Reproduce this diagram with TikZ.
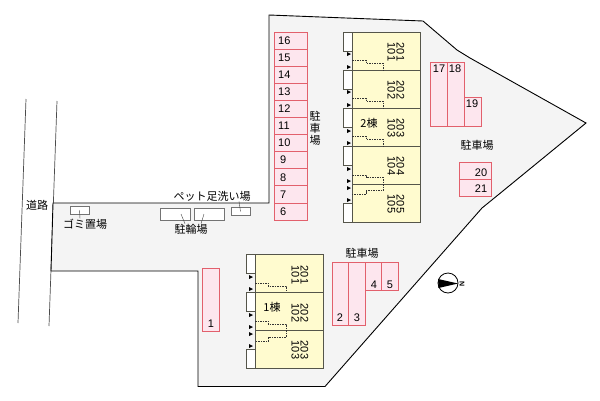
\documentclass[tikz,border=0pt]{standalone}
\usepackage{fontspec}
\setmainfont{Liberation Sans}
\newfontfamily\jpfont{Noto Sans CJK JP}
\usetikzlibrary{arrows.meta, positioning}
\definecolor{sitefill}{HTML}{F4F4F4}
\definecolor{stallfill}{HTML}{FDE6EE}
\definecolor{stallline}{HTML}{E2606C}
\definecolor{unitfill}{HTML}{FFFBCF}
\definecolor{unitline}{HTML}{55554A}
\tikzset{
    site/.style={draw=black, line width=0.9pt, fill=sitefill},
    road/.style={draw=black!70, line width=0.7pt},
    stall/.style={
        rectangle, draw=stallline, line width=0.8pt, fill=stallfill,
        inner sep=0pt, minimum width=17pt, minimum height=17.1pt
    },
    stallno/.style={font=\fontsize{11}{11}\selectfont, inner sep=0pt},
    unit/.style={
        rectangle, draw=unitline, line width=0.8pt, fill=unitfill,
        inner sep=0pt, minimum width=68pt, minimum height=38pt
    },
    porch/.style={
        rectangle, draw=unitline, line width=0.8pt, fill=white,
        inner sep=0pt, minimum width=8.5pt, minimum height=19pt
    },
    roomno/.style={
        rotate=-90, align=center, inner sep=0pt,
        font=\fontsize{11}{9}\selectfont
    },
    jlabel/.style={font=\jpfont\fontsize{11}{12}\selectfont, inner sep=0pt, align=center},
    shed/.style={
        rectangle, draw=black!55, line width=0.8pt, fill=white,
        inner sep=0pt
    },
    leader/.style={draw=black!75, line width=0.4pt},
    pipe/.style={draw=black!80, line width=0.5pt, dash pattern=on 1.5pt off 1pt}
}
\newcommand{\doormark}[1]{\fill[black] (#1) ++(-2,-2) -- ++(4,2) -- ++(-4,2) -- cycle;}

\begin{document}
\begin{tikzpicture}[x=1pt, y=-1pt]
\useasboundingbox (0,0) rectangle (600,400);

% Road
\draw[road] (26,99) -- (18,323);
\draw[road] (57,101) -- (49,326);
\node[jlabel] (roadlabel) at (37,205) {道路};

% Site outline
\draw[site] (269,15) -- (423,21) -- (457,50) -- (470,58) -- (586,123)
    -- (498,195) -- (482,208) -- (325,386.5) -- (198,386.5) -- (198,271)
    -- (51,271) -- (53,203) -- (269,203) -- cycle;

% Parking: 16 to 6
\node[stall, minimum width=33pt] (p16) at (290.5,40.5) {};
\node[stall, minimum width=33pt] (p15) at (290.5,57.6) {};
\node[stall, minimum width=33pt] (p14) at (290.5,74.7) {};
\node[stall, minimum width=33pt] (p13) at (290.5,91.8) {};
\node[stall, minimum width=33pt] (p12) at (290.5,108.9) {};
\node[stall, minimum width=33pt] (p11) at (290.5,126) {};
\node[stall, minimum width=33pt] (p10) at (290.5,143.1) {};
\node[stall, minimum width=33pt] (p9) at (290.5,160.2) {};
\node[stall, minimum width=33pt] (p8) at (290.5,177.3) {};
\node[stall, minimum width=33pt] (p7) at (290.5,194.4) {};
\node[stall, minimum width=33pt] (p6) at (290.5,211.5) {};
\node[stallno, anchor=west] (n16) at (278,41) {16};
\node[stallno, anchor=west] (n15) at (278,58) {15};
\node[stallno, anchor=west] (n14) at (278,75) {14};
\node[stallno, anchor=west] (n13) at (278,92) {13};
\node[stallno, anchor=west] (n12) at (278,109) {12};
\node[stallno, anchor=west] (n11) at (278,126) {11};
\node[stallno, anchor=west] (n10) at (278,143) {10};
\node[stallno, anchor=west] (n9) at (280,160) {9};
\node[stallno, anchor=west] (n8) at (280,178) {8};
\node[stallno, anchor=west] (n7) at (280,195) {7};
\node[stallno, anchor=west] (n6) at (280,212) {6};
\node[jlabel] (park1) at (315,128) {駐\\車\\場};

% Parking: 17 to 21
\node[stall, minimum height=64pt] (p17) at (438.5,94) {};
\node[stall, minimum height=64pt] (p18) at (455.5,94) {};
\node[stall, minimum height=29pt] (p19) at (472.5,111.5) {};
\node[stall, minimum width=32pt] (p20) at (475,171) {};
\node[stall, minimum width=32pt] (p21) at (475,188) {};
\node[stallno] (n17) at (439,69) {17};
\node[stallno] (n18) at (455,69) {18};
\node[stallno] (n19) at (472,104) {19};
\node[stallno] (n20) at (481,173) {20};
\node[stallno] (n21) at (481,189) {21};
\node[jlabel] (park2) at (477,145) {駐車場};

% Parking: 2 to 5
\node[stall, minimum height=63pt] (p2) at (340.5,293.5) {};
\node[stall, minimum height=63pt] (p3) at (357,293.5) {};
\node[stall, minimum height=28pt] (p4) at (373.5,276) {};
\node[stall, minimum height=28pt] (p5) at (390,276) {};
\node[stallno] (n2) at (340,318) {2};
\node[stallno] (n3) at (357,318) {3};
\node[stallno] (n4) at (374,285) {4};
\node[stallno] (n5) at (390,285) {5};
\node[jlabel] (park3) at (362,253) {駐車場};

% Parking: 1
\node[stall, minimum height=63pt] (p1) at (211,299.5) {};
\node[stallno] (n1) at (211,324) {1};

% Building 2
\node[porch] (e21) at (348,41.5) {};
\node[porch] (e22) at (348,79.5) {};
\node[porch] (e23) at (348,117.5) {};
\node[porch] (e24) at (348,155.5) {};
\node[porch] (e25) at (348,212.5) {};
\node[unit] (b21) at (386,51) {};
\node[unit] (b22) at (386,89) {};
\node[unit] (b23) at (386,127) {};
\node[unit] (b24) at (386,165) {};
\node[unit] (b25) at (386,203) {};
\node[roomno] (r21) at (396,52) {201\\101};
\node[roomno] (r22) at (396,90) {202\\102};
\node[roomno] (r23) at (396,128) {203\\103};
\node[roomno] (r24) at (396,166) {204\\104};
\node[roomno] (r25) at (396,204) {205\\105};
\node[jlabel] (bld2) at (369,123) {2棟};
\draw[pipe] (352,60.7) -- (366,60.7) -- (366,63.3) -- (383,63.3) -- (383,70);
\draw[pipe] (352,98.7) -- (366,98.7) -- (366,101.3) -- (383,101.3) -- (383,108);
\draw[pipe] (352,136.7) -- (366,136.7) -- (366,139.3) -- (383,139.3) -- (383,146);
\draw[pipe] (352,175) -- (366,175) -- (366,177.3) -- (383,177.3) -- (383,190.7)
    -- (366,190.7) -- (366,194) -- (352,194);
\doormark{349,54} \doormark{349,67}
\doormark{349,92} \doormark{349,105}
\doormark{349,131} \doormark{349,143}
\doormark{349,169} \doormark{349,181}
\doormark{349,188} \doormark{349,200}

% Building 1
\node[porch] (e11) at (251,263.5) {};
\node[porch] (e12) at (251,301.5) {};
\node[porch] (e13) at (251,358.5) {};
\node[unit] (b11) at (289,273.3) {};
\node[unit] (b12) at (289,311.3) {};
\node[unit] (b13) at (289,349.3) {};
\node[roomno] (r11) at (300,275) {201\\101};
\node[roomno] (r12) at (300,313) {202\\102};
\node[roomno] (r13) at (300,350) {203\\103};
\node[jlabel] (bld1) at (272,307) {1棟};
\draw[pipe] (255,283) -- (268,283) -- (268,286) -- (286,286) -- (286,292);
\draw[pipe] (255,321) -- (268,321) -- (268,324) -- (286,324) -- (286,337)
    -- (268,337) -- (268,341) -- (255,341);
\doormark{251,277} \doormark{251,289}
\doormark{251,315} \doormark{251,327}
\doormark{251,334} \doormark{251,346}

% Small facilities
\node[shed, minimum width=19pt, minimum height=8pt] (gomi) at (79.5,210) {};
\node[jlabel] (gomilabel) at (85,224) {ゴミ置場};
\draw[leader] (gomi.center) -- (gomilabel.north -| 80,0);
\node[shed, minimum width=30pt, minimum height=12pt] (bike1) at (175,214) {};
\node[shed, minimum width=30pt, minimum height=12pt] (bike2) at (209,214) {};
\node[jlabel] (bikelabel) at (191,229) {駐輪場};
\draw[leader] (bike1.center -| 181,0) -- (bikelabel.north -| 185,0);
\draw[leader] (bike2.center -| 204,0) -- (bikelabel.north -| 201,0);
\node[shed, minimum width=19pt, minimum height=7.5pt] (pet) at (240.5,211.5) {};
\node[jlabel] (petlabel) at (212,196) {ペット足洗い場};
\draw[leader] (petlabel.south -| 239,0) -- (pet.center);

% North mark
\node[circle, draw=black, line width=0.8pt, fill=white, inner sep=0pt, minimum size=20pt] (north) at (448,283) {};
\fill[black] (north.west) ++(0.5,-4) -- (458,283.5) -- (438.5,288) -- cycle;
\node[rotate=-90, inner sep=0pt, font=\bfseries\fontsize{7}{7}\selectfont] (northlabel) at (462,284) {N};

\end{tikzpicture}
\end{document}
